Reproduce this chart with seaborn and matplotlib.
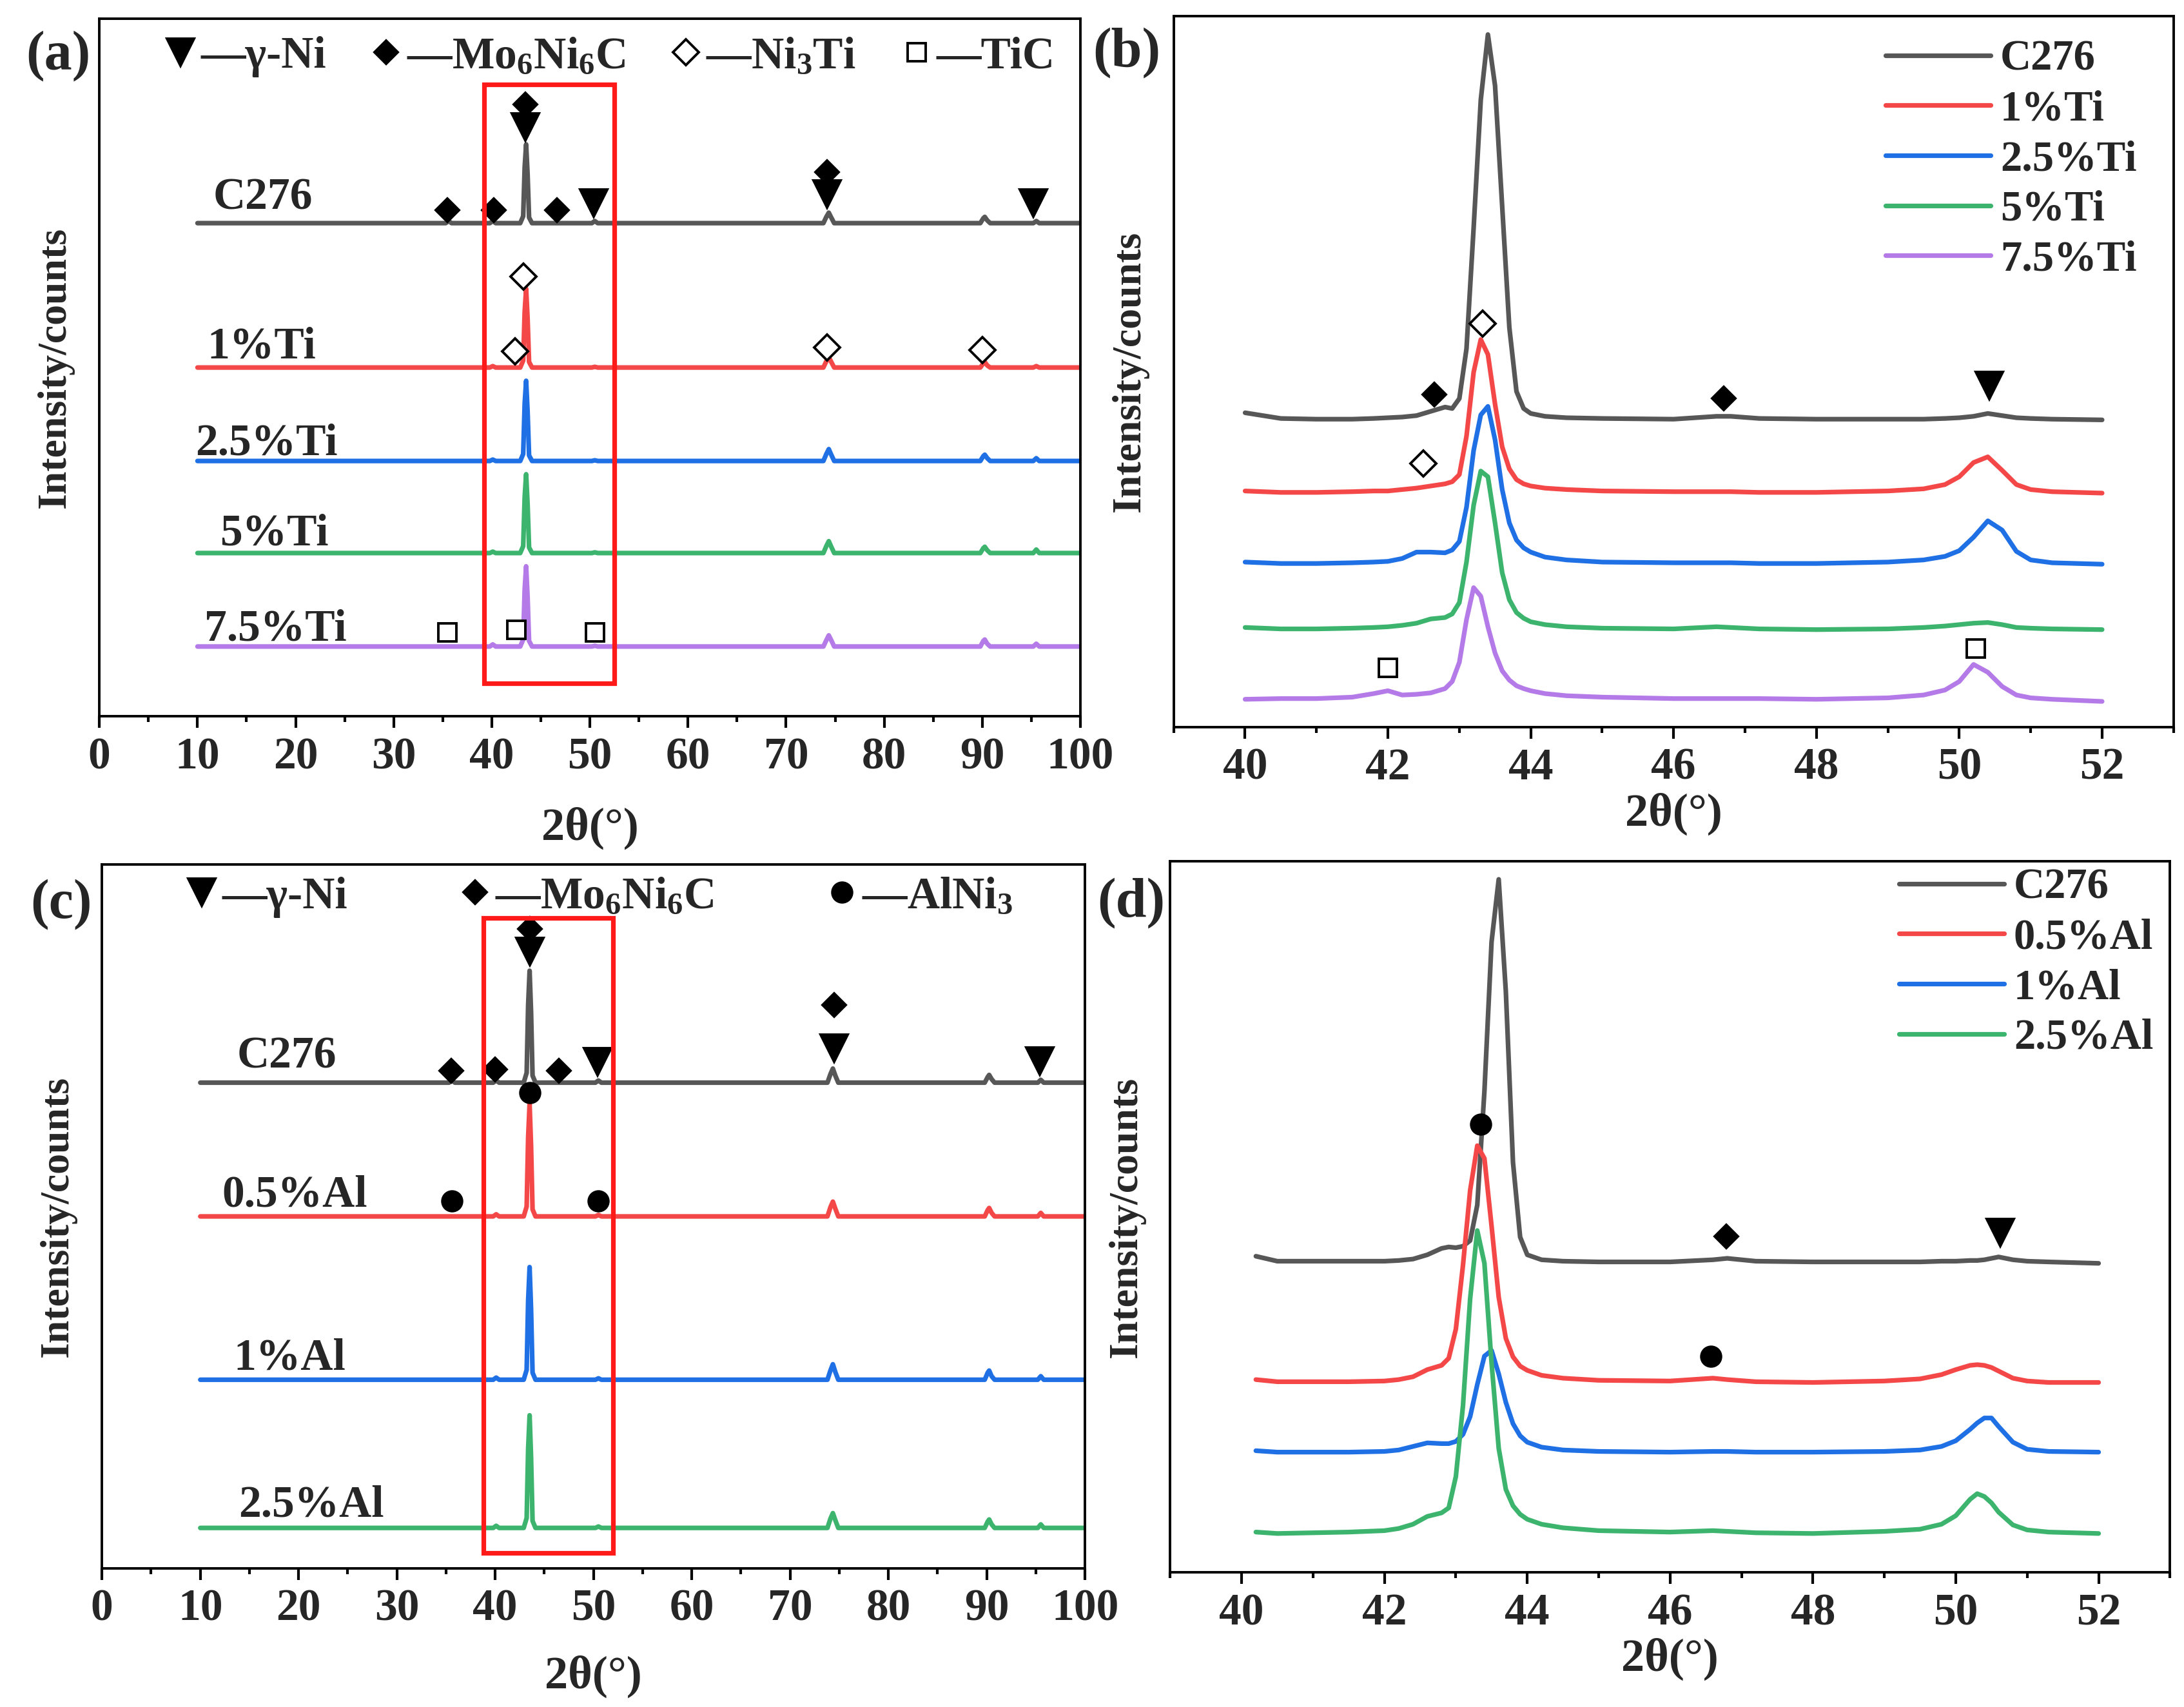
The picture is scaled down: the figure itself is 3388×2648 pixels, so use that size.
import numpy as np
import seaborn as sns
import matplotlib.pyplot as plt
from matplotlib.lines import Line2D
from matplotlib.patches import Rectangle
from matplotlib.ticker import MultipleLocator

# ---------------- data (intensity in % of panel height) ----------------
# panel (a): wide scan, Ti additions
a_x = [10, 35.3, 35.6, 35.9, 39.8, 40.1, 40.4, 42.9, 43.2, 43.35, 43.5, 43.65, 43.8, 44.1,
       50.2, 50.5, 50.8, 73.8, 74.1, 74.35, 74.6, 74.9, 89.8, 90.1, 90.25, 90.5, 90.8,
       95.2, 95.5, 95.8, 100]
a_c276 = [0, 0, 0.3, 0, 0, 0.3, 0, 0, 1.0, 8.0, 11.3, 7.0, 0.8, 0,
          0, 0.3, 0, 0, 0.9, 1.5, 0.8, 0, 0, 0.7, 0.9, 0.4, 0, 0, 0.3, 0, 0]
a_ti1 = [0, 0, 0, 0, 0, 0.2, 0, 0, 1.0, 8.0, 11.3, 7.0, 0.8, 0,
         0, 0.1, 0, 0, 0.9, 1.5, 0.8, 0, 0, 0.6, 0.8, 0.3, 0, 0, 0.2, 0, 0]
a_ti25 = [0, 0, 0, 0, 0, 0.2, 0, 0, 1.0, 8.2, 11.5, 7.1, 0.8, 0,
          0, 0.1, 0, 0, 1.0, 1.7, 0.9, 0, 0, 0.7, 0.9, 0.4, 0, 0, 0.4, 0, 0]
a_ti5 = [0, 0, 0, 0, 0, 0.2, 0, 0, 1.0, 8.0, 11.3, 7.0, 0.8, 0,
         0, 0.1, 0, 0, 1.0, 1.7, 0.9, 0, 0, 0.7, 0.9, 0.4, 0, 0, 0.5, 0, 0]
a_ti75 = [0, 0, 0, 0, 0, 0.3, 0, 0, 1.0, 8.2, 11.5, 7.1, 0.8, 0,
          0, 0.1, 0, 0, 0.9, 1.6, 0.9, 0, 0, 0.8, 1.0, 0.4, 0, 0, 0.4, 0, 0]
a_offsets = [70.7, 50.0, 36.6, 23.4, 10.0]
a_names = ['C276', '1%Ti', '2.5%Ti', '5%Ti', '7.5%Ti']
a_label_x = [11.6, 11.0, 9.8, 12.3, 10.7]
a_label_y = [74.3, 52.9, 39.1, 26.1, 12.4]

# panel (c): wide scan, Al additions
c_x = a_x
c_c276 = [0, 0, 0.3, 0, 0, 0.3, 0, 0, 1.4, 11.0, 15.9, 10.0, 1.0, 0,
          0, 0.3, 0, 0, 1.2, 2.0, 1.0, 0, 0, 0.8, 1.1, 0.5, 0, 0, 0.4, 0, 0]
c_al05 = [0, 0, 0, 0, 0, 0.3, 0, 0, 1.4, 11.2, 16.0, 10.0, 1.0, 0,
          0, 0.2, 0, 0, 1.3, 2.1, 1.1, 0, 0, 0.9, 1.2, 0.5, 0, 0, 0.5, 0, 0]
c_al1 = [0, 0, 0, 0, 0, 0.3, 0, 0, 1.4, 11.2, 16.0, 10.0, 1.0, 0,
         0, 0.2, 0, 0, 1.3, 2.2, 1.1, 0, 0, 1.0, 1.3, 0.5, 0, 0, 0.5, 0, 0]
c_al25 = [0, 0, 0, 0, 0, 0.3, 0, 0, 1.4, 11.2, 16.0, 10.0, 1.0, 0,
          0, 0.2, 0, 0, 1.3, 2.1, 1.1, 0, 0, 0.9, 1.2, 0.5, 0, 0, 0.5, 0, 0]
c_offsets = [69.0, 50.0, 26.8, 5.75]
c_names = ['C276', '0.5%Al', '1%Al', '2.5%Al']
c_label_x = [13.7, 12.2, 13.4, 13.9]
c_label_y = [72.7, 53.0, 29.8, 8.9]

# panel (b): 40-52 deg, Ti additions
b_x = [40.0, 40.5, 41.0, 41.5, 41.8, 42.0, 42.2, 42.4, 42.6, 42.8, 42.9, 43.0, 43.1, 43.2,
       43.3, 43.4, 43.5, 43.6, 43.7, 43.8, 43.9, 44.0, 44.2, 44.5, 45.0, 46.0, 46.6, 46.8,
       47.2, 48.0, 49.0, 49.5, 49.8, 50.0, 50.2, 50.4, 50.6, 50.8, 51.0, 51.3, 52.0]
b_c276 = [1.0, 0.2, 0.1, 0.1, 0.2, 0.3, 0.4, 0.6, 1.2, 1.8, 1.6, 3.0, 10, 27,
          45, 54.2, 47, 30, 13, 4, 1.6, 0.9, 0.5, 0.3, 0.2, 0.1, 0.5, 0.5,
          0.2, 0.1, 0.1, 0.1, 0.2, 0.3, 0.5, 0.9, 0.6, 0.3, 0.2, 0.1, 0.0]
b_ti1 = [0.3, 0.1, 0.1, 0.2, 0.3, 0.3, 0.5, 0.7, 1.0, 1.3, 1.6, 2.6, 8, 17,
         21.6, 19.5, 12.5, 6.5, 3.4, 1.9, 1.3, 1.0, 0.7, 0.5, 0.3, 0.2, 0.2, 0.2,
         0.1, 0.1, 0.3, 0.6, 1.2, 2.3, 4.3, 5.1, 3.2, 1.2, 0.5, 0.2, 0.0]
b_ti25 = [0.3, 0.1, 0.1, 0.2, 0.3, 0.4, 0.8, 1.7, 1.7, 1.6, 2.0, 3.2, 8, 16,
          21, 22.2, 17.5, 10.5, 5.8, 3.4, 2.3, 1.7, 1.0, 0.6, 0.3, 0.2, 0.2, 0.2,
          0.1, 0.1, 0.3, 0.6, 1.1, 1.9, 3.8, 6.1, 4.8, 1.8, 0.6, 0.2, 0.0]
b_ti5 = [0.3, 0.1, 0.1, 0.2, 0.3, 0.4, 0.6, 0.9, 1.5, 1.7, 2.2, 3.8, 9.5, 17.5,
         22.3, 21.5, 15, 8, 4.2, 2.4, 1.6, 1.1, 0.7, 0.4, 0.2, 0.1, 0.4, 0.3,
         0.1, 0.0, 0.1, 0.3, 0.5, 0.7, 0.9, 1.0, 0.7, 0.3, 0.2, 0.1, 0.0]
b_ti75 = [0.3, 0.4, 0.4, 0.6, 1.1, 1.5, 0.9, 1.0, 1.2, 1.8, 2.8, 5.5, 11.5, 16.0,
          14.8, 10.5, 6.8, 4.3, 3.0, 2.2, 1.8, 1.5, 1.1, 0.8, 0.6, 0.4, 0.4, 0.4,
          0.4, 0.3, 0.5, 0.9, 1.6, 2.8, 5.2, 4.1, 2.1, 0.9, 0.5, 0.3, 0.0]
b_offsets = [43.2, 32.9, 22.9, 13.7, 3.6]
b_names = ['C276', '1%Ti', '2.5%Ti', '5%Ti', '7.5%Ti']

# panel (d): 40-52 deg, Al additions
d_x = [40.2, 40.5, 41.0, 41.5, 42.0, 42.2, 42.4, 42.6, 42.8, 42.9, 43.0, 43.1, 43.2, 43.3,
       43.4, 43.5, 43.6, 43.7, 43.8, 43.9, 44.0, 44.2, 44.5, 45.0, 46.0, 46.6, 46.8, 47.2,
       48.0, 49.0, 49.5, 49.8, 50.0, 50.2, 50.3, 50.4, 50.5, 50.6, 50.8, 51.0, 51.3, 52.0]
d_c276 = [0.8, 0.1, 0.1, 0.1, 0.1, 0.2, 0.4, 1.0, 1.9, 2.1, 2.0, 2.2, 3.0, 8,
          24, 45, 53.8, 38, 14, 3.5, 1.0, 0.3, 0.1, 0.0, 0.0, 0.3, 0.5, 0.1,
          0.0, 0.0, 0.0, 0.1, 0.1, 0.2, 0.2, 0.3, 0.5, 0.7, 0.3, 0.1, 0.0, -0.2]
d_al05 = [0.4, 0.1, 0.1, 0.1, 0.2, 0.4, 0.8, 1.8, 2.4, 3.4, 7.5, 16.5, 27, 33.3,
          31.5, 22, 12, 6.2, 3.6, 2.3, 1.7, 1.0, 0.6, 0.3, 0.2, 0.6, 0.4, 0.1,
          0.0, 0.2, 0.5, 1.1, 1.8, 2.4, 2.5, 2.4, 2.1, 1.6, 0.6, 0.2, 0.0, 0.0]
d_al1 = [0.2, 0.0, 0.0, 0.0, 0.1, 0.3, 0.8, 1.3, 1.2, 1.2, 1.5, 2.5, 5, 9.5,
         13.5, 14.3, 11, 7, 4, 2.3, 1.4, 0.7, 0.3, 0.1, 0.0, 0.1, 0.1, 0.0,
         0.0, 0.1, 0.3, 0.8, 1.6, 3.2, 4.1, 4.8, 4.8, 3.6, 1.4, 0.4, 0.1, 0.0]
d_al25 = [0.2, 0.0, 0.1, 0.2, 0.4, 0.7, 1.3, 2.4, 2.9, 3.6, 8, 18, 33, 42.6,
          38, 24, 12, 6.2, 3.9, 2.7, 2.0, 1.3, 0.8, 0.4, 0.2, 0.4, 0.3, 0.1,
          0.0, 0.3, 0.6, 1.3, 2.5, 4.8, 5.6, 5.2, 4.3, 3.0, 1.2, 0.5, 0.2, 0.0]
d_offsets = [43.65, 26.7, 16.9, 5.46]
d_names = ['C276', '0.5%Al', '1%Al', '2.5%Al']

# phase markers (2theta, height)
a_mo_x = [35.5, 40.2, 46.65, 43.4, 74.2]
a_mo_y = [72.6, 72.6, 72.6, 87.7, 78.0]
a_ni_x = [50.4, 43.4, 74.2, 95.2]
a_ni_y = [73.6, 84.5, 74.9, 73.6]
a_ni3ti_x = [43.2, 42.4, 74.2, 90.0]
a_ni3ti_y = [63.0, 52.3, 52.9, 52.5]
a_tic_x = [35.5, 42.5, 50.5]
a_tic_y = [12.0, 12.4, 12.0]

c_mo_x = [35.5, 40.0, 46.5, 43.5, 74.5]
c_mo_y = [70.7, 70.9, 70.7, 90.8, 80.0]
c_ni_x = [50.4, 43.5, 74.5, 95.4]
c_ni_y = [72.0, 87.6, 73.9, 72.1]
c_alni_x = [43.5, 35.6, 50.5]
c_alni_y = [67.6, 52.2, 52.2]

b_mo_x = [42.65, 46.7]
b_mo_y = [46.8, 46.2]
b_ni_x = [50.42]
b_ni_y = [48.0]
b_ni3ti_x = [43.33, 42.5]
b_ni3ti_y = [56.7, 37.1]
b_tic_x = [42.0, 50.23]
b_tic_y = [8.3, 11.05]

d_alni_x = [43.35, 46.57]
d_alni_y = [63.05, 30.4]
d_mo_x = [46.79]
d_mo_y = [47.2]
d_ni_x = [50.62]
d_ni_y = [47.8]

# red boxes (x0, x1, y0, y1)
a_box = [39.2, 52.5, 4.75, 90.6]
c_box = [38.8, 52.0, 2.2, 92.4]

colors = ['#575757', '#f44848', '#1f6fe5', '#3cb46e', '#b47be8']

# ---------------- style ----------------
sns.set_style('ticks')
plt.rcParams['font.family'] = ['Liberation Serif', 'DejaVu Serif']
plt.rcParams['font.weight'] = 'bold'
plt.rcParams['mathtext.fontset'] = 'custom'
plt.rcParams['mathtext.rm'] = 'Liberation Serif:bold'
plt.rcParams['mathtext.bf'] = 'Liberation Serif:bold'
plt.rcParams['mathtext.it'] = 'Liberation Serif:italic:bold'
plt.rcParams['mathtext.default'] = 'rm'

fig = plt.figure(figsize=(16.94, 13.24), dpi=200)
ax_a = fig.add_axes([0.0455, 0.5804, 0.4492, 0.4086])
ax_b = fig.add_axes([0.5374, 0.5741, 0.4578, 0.4165])
ax_c = fig.add_axes([0.0467, 0.0812, 0.4501, 0.4124])
ax_d = fig.add_axes([0.5358, 0.0789, 0.4578, 0.4166])

TICK_FS = 25
TEXT_FS = 25
LW = 2.6


def style_axis(ax, xlim, major, minor, xlabelpad):
    ax.set_xlim(*xlim)
    ax.set_ylim(0, 100)
    ax.xaxis.set_major_locator(MultipleLocator(major))
    ax.xaxis.set_minor_locator(MultipleLocator(minor))
    ax.set_yticks([])
    ax.tick_params(axis='x', which='major', direction='out', length=6.5, width=1.5,
                   labelsize=TICK_FS, pad=5, color='black')
    ax.tick_params(axis='x', which='minor', direction='out', length=3.3, width=1.5,
                   color='black')
    for sp in ax.spines.values():
        sp.set_visible(True)
        sp.set_linewidth(1.4)
        sp.set_color('black')
    ax.set_ylabel('Intensity/counts', fontsize=23, fontweight='bold', labelpad=14)
    ax.set_xlabel('2θ(°)', fontsize=26, fontweight='bold', labelpad=xlabelpad)


def draw_traces(ax, x, series, offsets, names, label=False):
    for ys, off, name, col in zip(series, offsets, names, colors):
        sns.lineplot(x=x, y=np.array(ys) + off, ax=ax, color=col, lw=LW,
                     sort=False, estimator=None, label=name if label else None,
                     legend=False)


def mark(ax, xs, ys, shape, size, filled=True):
    ax.plot(xs, ys, ls='none', marker=shape, ms=size,
            mfc='black' if filled else 'white', mec='black', mew=1.4, zorder=5)


def key(shape, size, filled=True):
    return Line2D([], [], ls='none', marker=shape, ms=size,
                  mfc='black' if filled else 'white', mec='black', mew=1.4)


# ---------------- (a) ----------------
draw_traces(ax_a, a_x, [a_c276, a_ti1, a_ti25, a_ti5, a_ti75], a_offsets, a_names)
for nm, lx, ly in zip(a_names, a_label_x, a_label_y):
    ax_a.text(lx, ly, nm, fontsize=TEXT_FS, fontweight='bold', va='center', ha='left')
mark(ax_a, a_mo_x, a_mo_y, 'D', 9)
mark(ax_a, a_ni_x, a_ni_y, 'v', 15)
mark(ax_a, a_ni3ti_x, a_ni3ti_y, 'D', 10, filled=False)
mark(ax_a, a_tic_x, a_tic_y, 's', 10, filled=False)
ax_a.add_patch(Rectangle((a_box[0], a_box[2]), a_box[1] - a_box[0], a_box[3] - a_box[2],
                         fill=False, ec='#ff1a1a', lw=2.6, zorder=6))
style_axis(ax_a, (0, 100), 10, 5, 16)
ax_a.legend([key('v', 15), key('D', 9), key('D', 10, False), key('s', 10, False)],
            ['—γ-Ni', '—Mo$_6$Ni$_6$C', '—Ni$_3$Ti', '—TiC'], ncol=4,
            loc='upper left', bbox_to_anchor=(0.062, 0.975), frameon=False,
            fontsize=TEXT_FS, handlelength=0.9, handletextpad=0.0, columnspacing=0.9,
            borderpad=0, borderaxespad=0)

# ---------------- (b) ----------------
draw_traces(ax_b, b_x, [b_c276, b_ti1, b_ti25, b_ti5, b_ti75], b_offsets, b_names, label=True)
mark(ax_b, b_mo_x, b_mo_y, 'D', 9)
mark(ax_b, b_ni_x, b_ni_y, 'v', 15)
mark(ax_b, b_ni3ti_x, b_ni3ti_y, 'D', 10, filled=False)
mark(ax_b, b_tic_x, b_tic_y, 's', 10, filled=False)
style_axis(ax_b, (39, 53), 2, 1, 2)
ax_b.legend(loc='upper left', bbox_to_anchor=(0.712, 0.9665), frameon=False, fontsize=24,
            handlelength=2.44, handletextpad=0.23, labelspacing=0.25,
            borderpad=0, borderaxespad=0)

# ---------------- (c) ----------------
draw_traces(ax_c, c_x, [c_c276, c_al05, c_al1, c_al25], c_offsets, c_names)
for nm, lx, ly in zip(c_names, c_label_x, c_label_y):
    ax_c.text(lx, ly, nm, fontsize=TEXT_FS, fontweight='bold', va='center', ha='left')
mark(ax_c, c_mo_x, c_mo_y, 'D', 9)
mark(ax_c, c_ni_x, c_ni_y, 'v', 15)
mark(ax_c, c_alni_x, c_alni_y, 'o', 11)
ax_c.add_patch(Rectangle((c_box[0], c_box[2]), c_box[1] - c_box[0], c_box[3] - c_box[2],
                         fill=False, ec='#ff1a1a', lw=2.6, zorder=6))
style_axis(ax_c, (0, 100), 10, 5, 14)
ax_c.legend([key('v', 15), key('D', 9), key('o', 11)],
            ['—γ-Ni', '—Mo$_6$Ni$_6$C', '—AlNi$_3$'], ncol=3,
            loc='upper left', bbox_to_anchor=(0.081, 0.983), frameon=False,
            fontsize=TEXT_FS, handlelength=0.9, handletextpad=0.0, columnspacing=2.4,
            borderpad=0, borderaxespad=0)

# ---------------- (d) ----------------
draw_traces(ax_d, d_x, [d_c276, d_al05, d_al1, d_al25], d_offsets, d_names, label=True)
mark(ax_d, d_alni_x, d_alni_y, 'o', 11)
mark(ax_d, d_mo_x, d_mo_y, 'D', 9)
mark(ax_d, d_ni_x, d_ni_y, 'v', 15)
style_axis(ax_d, (39, 53), 2, 1, 2)
ax_d.legend(loc='upper left', bbox_to_anchor=(0.729, 0.99), frameon=False, fontsize=24,
            handlelength=2.44, handletextpad=0.23, labelspacing=0.25,
            borderpad=0, borderaxespad=0)

# panel letters
for lbl, px, py in [('(a)', 0.0268, 0.967), ('(b)', 0.516, 0.969),
                    ('(c)', 0.028, 0.470), ('(d)', 0.518, 0.471)]:
    fig.text(px, py, lbl, fontsize=31, fontweight='bold', ha='center', va='center')

fig.savefig('out.png', dpi=200)
